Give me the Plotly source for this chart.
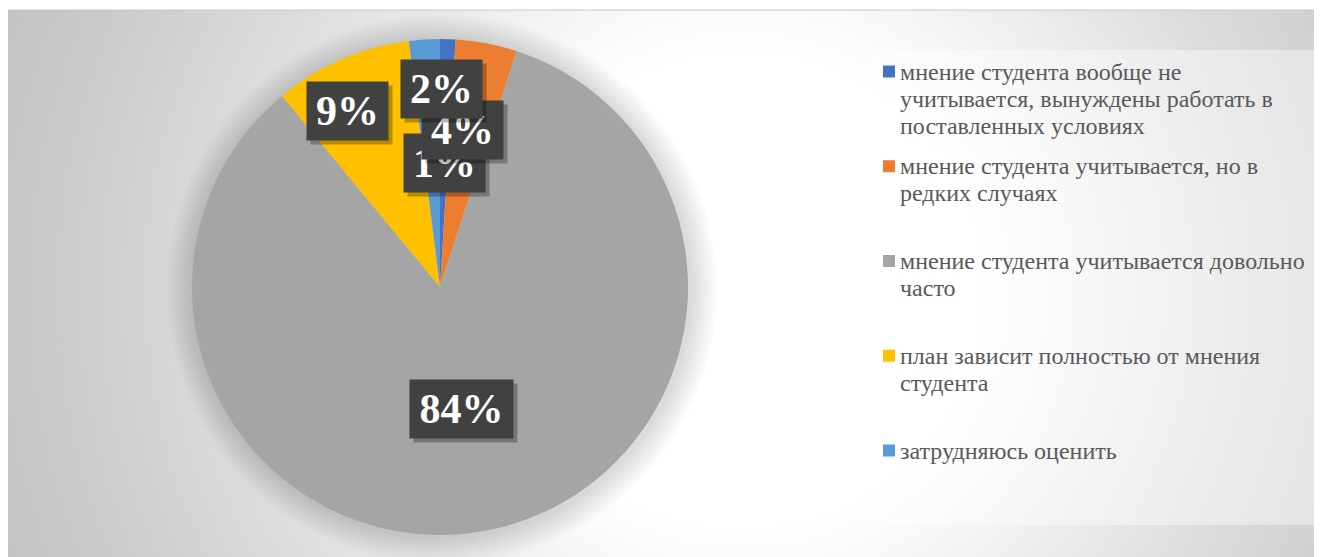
import base64
import math
import textwrap

import plotly.graph_objects as go

# ---------------- data ----------------
categories = [
    "мнение студента вообще не учитывается, вынуждены работать в поставленных условиях",
    "мнение студента учитывается, но в редких случаях",
    "мнение студента учитывается довольно часто",
    "план зависит полностью от мнения студента",
    "затрудняюсь оценить",
]
shares = [1, 4, 84, 9, 2]
colors = ["#4472C4", "#ED7D31", "#A5A5A5", "#FFC000", "#5B9BD5"]

# ---------------- layout constants (pixels, page coordinates) ----------------
W, H = 1322, 557
OFF = 8  # page margin of the html body
PIE_CX, PIE_CY, PIE_R = 440, 287, 248
# manually-dragged label placement (radius fraction, angle shift in degrees)
label_radius = [0.50, 0.64, 0.50, 0.80, 0.80]
label_shift = [0.5, -2.5, 1.0, -4.3, 3.9]

LABEL_FONT = "Liberation Serif"
TEXT_COLOR = "#595959"


def px(x):
    return (x - OFF) / W


def py(y):
    return 1 - (y - OFF) / H


# ---------------- background (radial gradient) ----------------
bg_svg = (
    "<svg xmlns='http://www.w3.org/2000/svg' width='1314' height='547' viewBox='0 0 1314 547' preserveAspectRatio='none'>"
    "<defs><radialGradient id='g' gradientUnits='userSpaceOnUse' cx='735' cy='280' r='790'>"
    "<stop offset='0' stop-color='#ffffff'/>"
    "<stop offset='0.30' stop-color='#ffffff'/>"
    "<stop offset='0.40' stop-color='#f6f6f6'/>"
    "<stop offset='0.65' stop-color='#dddddd'/>"
    "<stop offset='0.87' stop-color='#cbcbcb'/>"
    "<stop offset='1' stop-color='#c3c3c3'/>"
    "</radialGradient></defs>"
    "<rect x='0' y='0' width='1314' height='547' fill='url(#g)'/></svg>"
)
bg_uri = "data:image/svg+xml;base64," + base64.b64encode(bg_svg.encode()).decode()

fig = go.Figure()

fig.add_trace(
    go.Pie(
        labels=categories,
        values=shares,
        marker=dict(colors=colors, line=dict(width=0)),
        sort=False,
        direction="clockwise",
        rotation=0,
        textinfo="none",
        hoverinfo="label+percent",
        showlegend=False,
        domain=dict(
            x=[px(PIE_CX - PIE_R), px(PIE_CX + PIE_R)],
            y=[py(PIE_CY + PIE_R), py(PIE_CY - PIE_R)],
        ),
    )
)

shapes = []
# chart area frame
shapes.append(dict(type="rect", xref="paper", yref="paper", x0=px(8), x1=px(1330), y0=py(565), y1=py(10),
                   line=dict(color="#c8c8c8", width=1), fillcolor="rgba(0,0,0,0)", layer="below"))
# soft glow around pie
for k in range(9):
    rr = PIE_R + 3 + k * 3
    shapes.append(dict(type="circle", xref="paper", yref="paper",
                       x0=px(PIE_CX - rr + 2), x1=px(PIE_CX + rr + 2),
                       y0=py(PIE_CY + rr + 2), y1=py(PIE_CY - rr + 2),
                       line=dict(width=0), fillcolor="rgba(0,0,0,0.014)", layer="below"))
# legend box
shapes.append(dict(type="rect", xref="paper", yref="paper", x0=px(871), x1=px(1317), y0=py(525), y1=py(50),
                   line=dict(width=0), fillcolor="rgba(255,255,255,0.40)", layer="below"))

annotations = []

# data labels
total = sum(shares)
cum = 0
for i, v in enumerate(shares):
    mid = (cum + v / 2) / total * 360 + label_shift[i]
    cum += v
    r = label_radius[i] * PIE_R
    lx = PIE_CX + r * math.sin(math.radians(mid))
    ly = PIE_CY - r * math.cos(math.radians(mid))
    txt = f"{round(v / total * 100)}%"
    bw = 37 + 22 * len(txt)
    common = dict(xref="paper", yref="paper", x=px(lx), y=py(ly), xanchor="center", yanchor="middle",
                  showarrow=False, width=bw, height=58, borderpad=0)
    annotations.append(dict(text="", bgcolor="rgba(0,0,0,0.28)", xshift=4, yshift=-4, **common))
    annotations.append(dict(text=txt, bgcolor="#414141",
                            font=dict(family=LABEL_FONT, size=42, color="white", weight="bold"), **common))

# legend (square markers + wrapped text, line spacing 27px)
LEG_TOP = 71.5
LEG_STEP = 94.75
LINE_STEP = 27
for i, name in enumerate(categories):
    cy = LEG_TOP + i * LEG_STEP
    shapes.append(dict(type="rect", xref="paper", yref="paper", x0=px(883), x1=px(895),
                       y0=py(cy + 6), y1=py(cy - 6), line=dict(width=0), fillcolor=colors[i]))
    for j, line in enumerate(textwrap.wrap(name, 36)):
        annotations.append(dict(text=line, xref="paper", yref="paper", x=px(898), y=py(cy + j * LINE_STEP),
                                xanchor="left", yanchor="middle", align="left", showarrow=False,
                                font=dict(family=LABEL_FONT, size=24, color=TEXT_COLOR)))

fig.update_layout(
    width=W,
    height=H,
    margin=dict(l=0, r=0, t=0, b=0),
    paper_bgcolor="white",
    plot_bgcolor="white",
    shapes=shapes,
    annotations=annotations,
    images=[dict(source=bg_uri, xref="paper", yref="paper", x=px(8), y=py(10), sizex=1314 / W,
                 sizey=547 / H, xanchor="left", yanchor="top", sizing="stretch", layer="below")],
    showlegend=False,
)

fig.write_html("out.html")
